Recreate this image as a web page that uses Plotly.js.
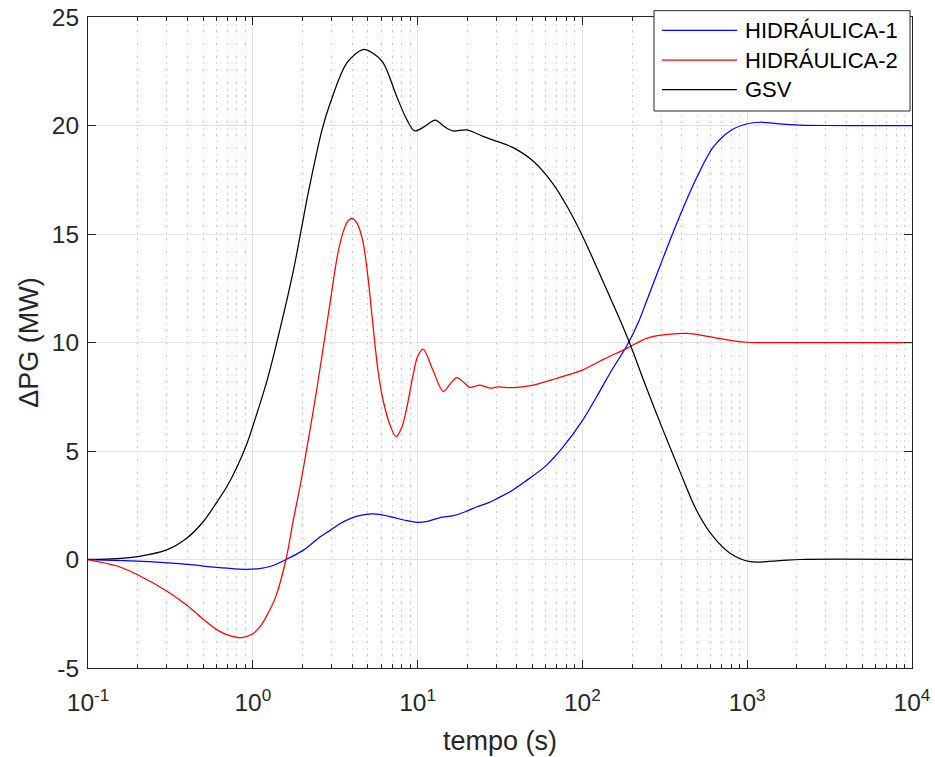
<!DOCTYPE html>
<html>
<head>
<meta charset="utf-8">
<script src="https://cdn.plot.ly/plotly-3.0.1.min.js"></script>
<style>html,body{margin:0;padding:0;background:#fff;}</style>
</head>
<body>
<div id="chart" style="width:935px;height:757px;"></div>
<script>
// ---- data ----
const seriesNames = ["HIDRÁULICA-1", "HIDRÁULICA-2", "GSV"];

const h1_t = [0.1, 0.2, 0.3, 0.4, 0.5, 0.7, 0.9, 1.1, 1.3, 1.59, 2.02, 2.5, 2.94, 3.4, 3.9, 4.5, 5.26, 6.1, 7.13, 8.5, 9.9, 11.5, 13.7, 16.5, 19.5, 22.9, 27, 30.2, 36.4, 45, 60.7, 76.6, 100, 122, 150, 186, 219, 245, 309, 391, 494, 622, 787, 1000, 1200, 1580, 2100, 3000, 5000, 10000];
const h1_p = [0, -0.07, -0.15, -0.22, -0.3, -0.4, -0.45, -0.42, -0.3, 0, 0.42, 0.98, 1.34, 1.66, 1.88, 2.03, 2.1, 2.06, 1.94, 1.8, 1.71, 1.76, 1.93, 2.02, 2.2, 2.43, 2.62, 2.8, 3.12, 3.6, 4.35, 5.2, 6.4, 7.5, 8.7, 9.85, 10.95, 11.9, 13.9, 15.85, 17.6, 19.0, 19.75, 20.08, 20.15, 20.07, 20.02, 20.0, 20.0, 20.0];

const h2_t = [0.1, 0.15, 0.2, 0.3, 0.4, 0.5, 0.6, 0.7, 0.78, 0.857, 1.0, 1.1, 1.21, 1.38, 1.59, 1.76, 1.95, 2.12, 2.44, 2.94, 3.3, 3.6, 3.8, 4.0, 4.3, 4.66, 5.0, 5.36, 5.75, 6.17, 6.8, 7.4, 8.0, 8.63, 9.42, 10.0, 10.8, 12.4, 14.3, 15.8, 17.3, 19.0, 20.8, 23.9, 27.5, 30.7, 38, 50.4, 69.8, 100, 134, 186, 245, 309, 430, 622, 824, 1040, 2000, 5000, 10000];
const h2_p = [0, -0.3, -0.7, -1.45, -2.12, -2.75, -3.22, -3.47, -3.57, -3.6, -3.42, -3.12, -2.62, -1.7, 0, 1.8, 3.5, 5.05, 7.8, 11.8, 14.2, 15.27, 15.62, 15.72, 15.48, 14.65, 13.0, 10.8, 8.7, 7.35, 6.2, 5.66, 6.07, 7.05, 8.55, 9.35, 9.7, 8.72, 7.75, 8.1, 8.38, 8.17, 7.93, 8.04, 7.9, 7.95, 7.92, 8.04, 8.35, 8.73, 9.22, 9.73, 10.19, 10.35, 10.42, 10.24, 10.07, 10.0, 10.0, 10.0, 10.0];

const gsv_t = [0.1, 0.15, 0.2, 0.3, 0.397, 0.5, 0.6, 0.695, 0.798, 0.918, 1.0, 1.21, 1.36, 1.76, 2.17, 2.63, 2.94, 3.73, 4.67, 5.3, 6.17, 7.5, 8.63, 9.6, 11.0, 12.8, 14.5, 16.4, 19.9, 24.9, 31.6, 38, 50.4, 66.5, 80.3, 96.6, 116, 140, 169, 194, 245, 309, 391, 494, 622, 787, 1040, 1580, 2100, 10000];
const gsv_p = [0, 0.04, 0.13, 0.44, 0.98, 1.74, 2.6, 3.35, 4.23, 5.31, 6.14, 8.15, 9.63, 13.29, 16.9, 19.8, 21.0, 22.9, 23.5, 23.35, 22.9, 21.3, 20.25, 19.75, 19.95, 20.25, 19.95, 19.75, 19.8, 19.5, 19.22, 18.98, 18.35, 17.3, 16.3, 15.15, 13.85, 12.45, 11.05, 9.95, 7.9, 5.95, 4.05, 2.25, 1.05, 0.29, -0.1, -0.05, 0, 0];

const xTickVals = [0.1, 1, 10, 100, 1000, 10000];
const xTickText = ["10<sup>-1</sup>", "10<sup>0</sup>", "10<sup>1</sup>", "10<sup>2</sup>", "10<sup>3</sup>", "10<sup>4</sup>"];
const yTickVals = [-5, 0, 5, 10, 15, 20, 25];
const yTickText = ["-5", "0", "5", "10", "15", "20", "25"];
const xTitle = "tempo (s)";
const yTitle = "\u0394PG (MW)";

// minor tick positions 2..9 within each decade
const minorVals = [];
for (let d = 0; d < xTickVals.length - 1; d++) {
  for (let k = 2; k <= 9; k++) minorVals.push(k * xTickVals[d]);
}

const colors = ["#0000ff", "#ff0000", "#000000"];
const lw = 1.25;

const series = [[h1_t, h1_p], [h2_t, h2_p], [gsv_t, gsv_p]];
const traces = series.map((s, i) => ({
  x: s[0], y: s[1], name: seriesNames[i], mode: "lines",
  line: {color: colors[i], width: lw, shape: "spline", smoothing: 0.9, simplify: false}
}));

const axCol = "#262626";
const font = "'Liberation Sans', Arial, Helvetica, sans-serif";

// ---- legend box (MATLAB style, drawn in paper coordinates) ----
const legBox = {x0: 0.6869, x1: 0.9976, y0: 0.8556, y1: 1.0097};
const legRows = [0.9793, 0.9339, 0.8886];
const legLineX = [0.6966, 0.7876];
const legTextX = 0.7955;

const shapes = [{
  type: "rect", xref: "paper", yref: "paper", layer: "above",
  x0: legBox.x0, x1: legBox.x1, y0: legBox.y0, y1: legBox.y1,
  fillcolor: "#ffffff", line: {color: axCol, width: 1}
}];
const annotations = [];
seriesNames.forEach((nm, i) => {
  shapes.push({type: "line", xref: "paper", yref: "paper", layer: "above",
    x0: legLineX[0], x1: legLineX[1], y0: legRows[i], y1: legRows[i],
    line: {color: colors[i], width: lw}});
  annotations.push({xref: "paper", yref: "paper", x: legTextX, y: legRows[i],
    xanchor: "left", yanchor: "middle", showarrow: false, text: nm,
    font: {family: font, size: 22, color: "#000000"}});
});

const layout = {
  width: 935, height: 757,
  margin: {l: 88, r: 23, t: 17, b: 89, pad: 0},
  paper_bgcolor: "#ffffff", plot_bgcolor: "#ffffff",
  font: {family: font, size: 24.5, color: axCol},
  showlegend: false,
  shapes: shapes,
  annotations: annotations,
  xaxis: {
    type: "log", range: [-1, 4],
    tickmode: "array", tickvals: xTickVals, ticktext: xTickText,
    ticks: "inside", ticklen: 8, tickwidth: 1, tickcolor: axCol,
    showline: true, linecolor: axCol, linewidth: 1, mirror: "ticks",
    showgrid: true, gridcolor: "#e3e3e3", gridwidth: 1,
    zeroline: false,
    tickfont: {family: font, size: 24.5, color: axCol},
    ticklabelstandoff: 13,
    minor: {tickmode: "array", tickvals: minorVals, ticks: "inside", ticklen: 4, tickcolor: axCol, tickwidth: 1,
            showgrid: true, gridcolor: "#c4c4c4", gridwidth: 1, griddash: "1.5px,5px"},
    title: {text: xTitle, font: {family: font, size: 27, color: axCol}, standoff: 15}
  },
  yaxis: {
    range: [-5, 25],
    tickmode: "array", tickvals: yTickVals, ticktext: yTickText,
    ticks: "inside", ticklen: 8, tickwidth: 1, tickcolor: axCol,
    showline: true, linecolor: axCol, linewidth: 1, mirror: "ticks",
    showgrid: true, gridcolor: "#e3e3e3", gridwidth: 1,
    zeroline: false,
    tickfont: {family: font, size: 24.5, color: axCol},
    ticklabelstandoff: 3,
    title: {text: yTitle, font: {family: font, size: 27, color: axCol}, standoff: 5}
  }
};

Plotly.newPlot("chart", traces, layout, {staticPlot: true, displayModeBar: false});
</script>
</body>
</html>
